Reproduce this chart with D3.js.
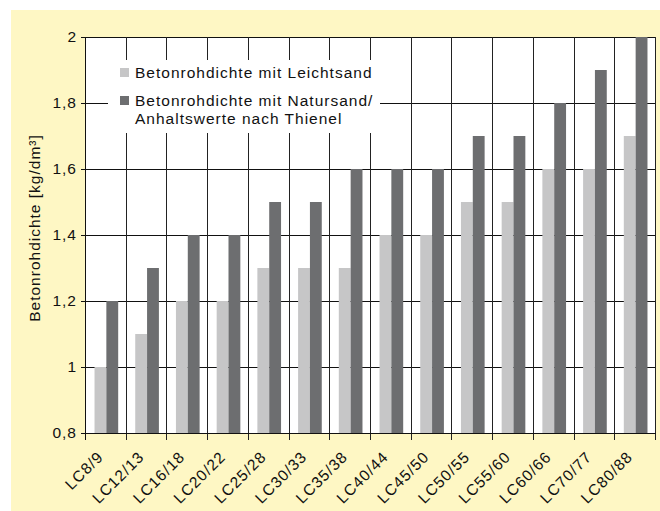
<!DOCTYPE html>
<html><head><meta charset="utf-8">
<script src="https://cdn.jsdelivr.net/npm/d3@7"></script>
<style>
html,body{margin:0;padding:0;background:#fff;}
svg text{font-family:"Liberation Sans",Arial,Helvetica,sans-serif;fill:#111;}
</style></head>
<body>
<svg id="chart" width="660" height="511"></svg>
<script>
const categories = ["LC8/9","LC12/13","LC16/18","LC20/22","LC25/28","LC30/33","LC35/38","LC40/44","LC45/50","LC50/55","LC55/60","LC60/66","LC70/77","LC80/88"];
const leichtsand = [1.0,1.1,1.2,1.2,1.3,1.3,1.3,1.4,1.4,1.5,1.5,1.6,1.6,1.7];
const natursand  = [1.2,1.3,1.4,1.4,1.5,1.5,1.6,1.6,1.6,1.7,1.7,1.8,1.9,2.0];
const yTicks = [0.8,1,1.2,1.4,1.6,1.8,2];
const yTickLabels = ["0,8","1","1,2","1,4","1,6","1,8","2"];
const seriesNames = ["Betonrohdichte mit Leichtsand","Betonrohdichte mit Natursand/"];
const legendExtra = "Anhaltswerte nach Thienel";
const yTitle = "Betonrohdichte [kg/dm³]";
const colors = ["#c6c6c7","#6d6e70"];

const svg = d3.select("#chart");
const W = 660, H = 511;
const m = {left:86, top:37, right:656, bottom:433};

svg.append("rect").attr("x",11).attr("y",10).attr("width",W-11).attr("height",H-10).attr("fill","#fef7c4");
svg.append("rect").attr("x",m.left).attr("y",m.top).attr("width",m.right-m.left).attr("height",m.bottom-m.top).attr("fill","#fff");

const x = d3.scaleBand().domain(categories).range([m.left,m.right]).paddingInner(0).paddingOuter(0);
const x1 = d3.scaleBand().domain([0,1]).range([0,x.bandwidth()]).paddingInner(0).paddingOuter(0.72);
const y = d3.scaleLinear().domain([0.8,2]).range([m.bottom,m.top]);

const fs = 15.5, ls = 1;

// horizontal grid
svg.append("g").selectAll("line").data(yTicks).join("line")
  .attr("x1",m.left).attr("x2",m.right)
  .attr("y1",d=>Math.round(y(d))+0.5).attr("y2",d=>Math.round(y(d))+0.5)
  .attr("stroke","#111").attr("stroke-width",1);

// vertical grid at category boundaries
const bounds = categories.map(c=>x(c)).concat([m.right]);
svg.append("g").selectAll("line").data(bounds).join("line")
  .attr("x1",d=>Math.round(d)-0.5).attr("x2",d=>Math.round(d)-0.5)
  .attr("y1",m.top).attr("y2",m.bottom+7)
  .attr("stroke","#222").attr("stroke-width",1);

// legend white box
svg.append("rect").attr("x",108).attr("y",60).attr("width",272).attr("height",73).attr("fill","#fff");

// bars
const series = [leichtsand, natursand];
series.forEach((vals,si)=>{
  svg.append("g").selectAll("rect").data(vals).join("rect")
    .attr("x",(d,i)=>x(categories[i])+x1(si))
    .attr("width",x1.bandwidth())
    .attr("y",d=>y(d))
    .attr("height",d=>y(0.8)-y(d))
    .attr("fill",colors[si]);
});

// axes
svg.append("line").attr("x1",m.left-0.5).attr("x2",m.left-0.5).attr("y1",m.top).attr("y2",m.bottom+7).attr("stroke","#111");
svg.append("line").attr("x1",m.left).attr("x2",m.right).attr("y1",m.bottom+0.5).attr("y2",m.bottom+0.5).attr("stroke","#111");
const yt = svg.append("g");
yt.selectAll("line").data(yTicks).join("line")
  .attr("x1",m.left-5).attr("x2",m.left)
  .attr("y1",d=>Math.round(y(d))+0.5).attr("y2",d=>Math.round(y(d))+0.5).attr("stroke","#111");
yt.selectAll("text").data(yTicks).join("text")
  .attr("x",m.left-9).attr("y",d=>y(d)).attr("dy","0.34em")
  .attr("text-anchor","end").style("font-size",fs+"px").style("letter-spacing",ls+"px")
  .text((d,i)=>yTickLabels[i]);

// x labels
svg.append("g").selectAll("text").data(categories).join("text")
  .attr("transform",d=>`translate(${x(d)+x.bandwidth()/2-2},${m.bottom+25}) rotate(-45)`)
  .attr("text-anchor","end").style("font-size",fs+"px").style("letter-spacing",ls+"px")
  .text(d=>d);

// y title
svg.append("text").attr("transform",`translate(40,${228}) rotate(-90)`)
  .attr("text-anchor","middle").style("font-size",fs+"px").style("letter-spacing",ls+"px")
  .text(yTitle);

// legend
const lg = svg.append("g");
const rows = [{c:colors[0],t:seriesNames[0],y:78},{c:colors[1],t:seriesNames[1],y:106},{c:null,t:legendExtra,y:124}];
rows.forEach(r=>{
  if(r.c) lg.append("rect").attr("x",120).attr("y",r.y-10).attr("width",9).attr("height",9).attr("fill",r.c);
  lg.append("text").attr("x",135).attr("y",r.y).style("font-size",fs+"px").style("letter-spacing",ls+"px").text(r.t);
});
</script>
</body></html>
